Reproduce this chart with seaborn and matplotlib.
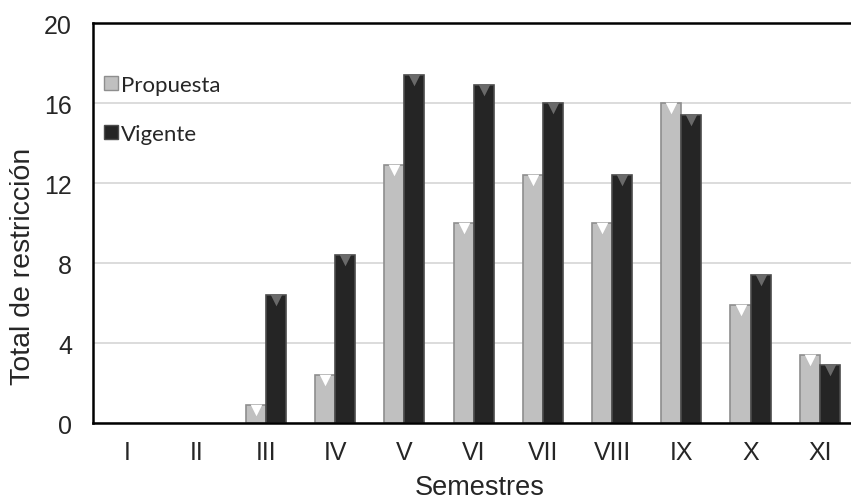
import numpy as np
import pandas as pd
import matplotlib
matplotlib.use("Agg")
import matplotlib.pyplot as plt
import seaborn as sns

semestres = ["I", "II", "III", "IV", "V", "VI", "VII", "VIII", "IX", "X", "XI"]
propuesta = [0, 0, 0.9, 2.4, 12.9, 10.0, 12.4, 10.0, 16.0, 5.9, 3.4]
vigente = [0, 0, 6.4, 8.4, 17.4, 16.9, 16.0, 12.4, 15.4, 7.4, 2.9]
series = ["Propuesta", "Vigente"]
y_ticks = [0, 4, 8, 12, 16, 20]

df = pd.DataFrame({
    "Semestres": semestres * 2,
    "total": propuesta + vigente,
    "serie": ["Propuesta"] * len(semestres) + ["Vigente"] * len(semestres),
})

sns.set_style("white")
plt.rcParams["font.family"] = ["Liberation Sans", "DejaVu Sans"]

fill = {"Propuesta": "#c0c0c0", "Vigente": "#252525"}
edge = {"Propuesta": "#8e8e8e", "Vigente": "#4c4c4c"}
tip = {"Propuesta": "#ffffff", "Vigente": "#6a6a6a"}

fig = plt.figure(figsize=(8.51, 5.02), dpi=100)
ax = fig.add_axes([0.109, 0.155, 0.895, 0.797])

sns.barplot(data=df, x="Semestres", y="total", hue="serie", hue_order=series,
            palette=fill, width=0.58, ax=ax, saturation=1, legend=False)

# bevel-ish look: darker edges and a small triangle at each bar top
for cont, name in zip(ax.containers, series):
    for bar in cont:
        h = bar.get_height()
        if h <= 0:
            bar.set_visible(False)
            continue
        bar.set_edgecolor(edge[name])
        bar.set_linewidth(1.2)
        ax.scatter(bar.get_x() + bar.get_width() / 2, h - 0.24, marker="v",
                   s=70, color=tip[name], linewidths=0, zorder=5)

ax.set_ylim(0, 20)
ax.set_xlim(-0.5, len(semestres) - 0.5)
ax.set_yticks(y_ticks)
ax.yaxis.grid(True, color="#d9d9d9", linewidth=1.3)
ax.set_axisbelow(True)
ax.tick_params(axis="both", labelsize=18, length=0)
ax.tick_params(axis="x", pad=12)
ax.tick_params(axis="y", pad=15)
ax.set_ylabel("Total de restricción", fontsize=20.5)
ax.set_xlabel("Semestres", fontsize=19.5)
ax.yaxis.set_label_coords(-0.074, 0.395)
ax.xaxis.set_label_coords(0.508, -0.128)

for side in ["left", "top", "bottom"]:
    ax.spines[side].set_visible(True)
    ax.spines[side].set_color("black")
    ax.spines[side].set_linewidth(1.8)
ax.spines["right"].set_visible(False)

handles = [plt.Rectangle((0, 0), 1, 1, facecolor=fill[s], edgecolor=edge[s]) for s in series]
ax.legend(handles, series, loc="upper left", bbox_to_anchor=(-0.008, 0.915),
          frameon=False, handlelength=0.6, handleheight=0.6,
          handletextpad=0.15, labelspacing=1.3, borderaxespad=0.4,
          prop={"family": ["Lato", "DejaVu Sans"], "size": 16})

fig.savefig("out.png", dpi=100)
